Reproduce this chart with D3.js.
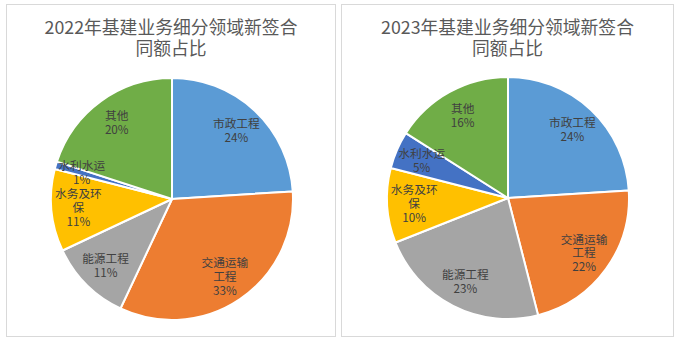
<!DOCTYPE html>
<html><head><meta charset="utf-8">
<script src="https://cdn.jsdelivr.net/npm/d3@7"></script>
<style>
html,body{margin:0;padding:0;background:#fff;}
svg{display:block;}
</style>
</head><body>
<svg id="chart" width="678" height="343"></svg>
<script>
// ---- data ----
const categories = ["市政工程", "交通运输工程", "能源工程", "水务及环保", "水利水运", "其他"];
const labelLines = [["市政工程"], ["交通运输", "工程"], ["能源工程"], ["水务及环", "保"], ["水利水运"], ["其他"]];
const colors = ["#5B9BD5", "#ED7D31", "#A5A5A5", "#FFC000", "#4472C4", "#70AD47"];
const values2022 = [24, 33, 11, 11, 1, 20];
const values2023 = [24, 22, 23, 10, 5, 16];
const titles = [
  ["2022年基建业务细分领域新签合", "同额占比"],
  ["2023年基建业务细分领域新签合", "同额占比"]
];

const svg = d3.select("#chart");
const panels = [
  {x: 6, w: 329, values: values2022, title: titles[0], cx: 172, cy: 199},
  {x: 341, w: 332, values: values2023, title: titles[1], cx: 508, cy: 198}
];
const R = 121;
const labelR = 94;
const font = "'Noto Sans CJK SC', 'Noto Sans', sans-serif";

panels.forEach(p => {
  const g = svg.append("g");
  g.append("rect").attr("x", p.x + 0.5).attr("y", 4.5).attr("width", p.w).attr("height", 332)
    .attr("fill", "#fff").attr("stroke", "#d9d9d9").attr("stroke-width", 1);

  const tcx = p.x + p.w / 2 + 0.5;
  g.selectAll("text.title").data(p.title).join("text").attr("class", "title")
    .attr("x", tcx).attr("y", (d, i) => 33.5 + i * 21).attr("text-anchor", "middle")
    .attr("font-family", font).attr("font-size", 17.8).attr("fill", "#595959")
    .text(d => d);

  const pie = d3.pie().sort(null).value(d => d.v);
  const data = pie(p.values.map((v, i) => ({v, i})));
  const arc = d3.arc().innerRadius(0).outerRadius(R);
  const lab = d3.arc().innerRadius(labelR).outerRadius(labelR);
  const pg = g.append("g").attr("transform", `translate(${p.cx},${p.cy})`);
  pg.selectAll("path").data(data).join("path")
    .attr("d", arc).attr("fill", d => colors[d.data.i])
    .attr("stroke", "#fff").attr("stroke-width", 2).attr("stroke-linejoin", "round");

  pg.selectAll("text.lbl").data(data).join("text").attr("class", "lbl")
    .attr("text-anchor", "middle")
    .attr("font-family", font).attr("font-size", 11.7).attr("fill", "#404040")
    .each(function(d) {
      const [x, y] = lab.centroid(d);
      const lines = labelLines[d.data.i].concat([d.data.v + "%"]);
      const lh = 13.8;
      const y0 = y - (lines.length - 1) * lh / 2 + 4.2;
      d3.select(this).selectAll("tspan").data(lines).join("tspan")
        .attr("x", x).attr("y", (t, k) => y0 + k * lh).text(t => t);
    });
});
</script>
</body></html>
